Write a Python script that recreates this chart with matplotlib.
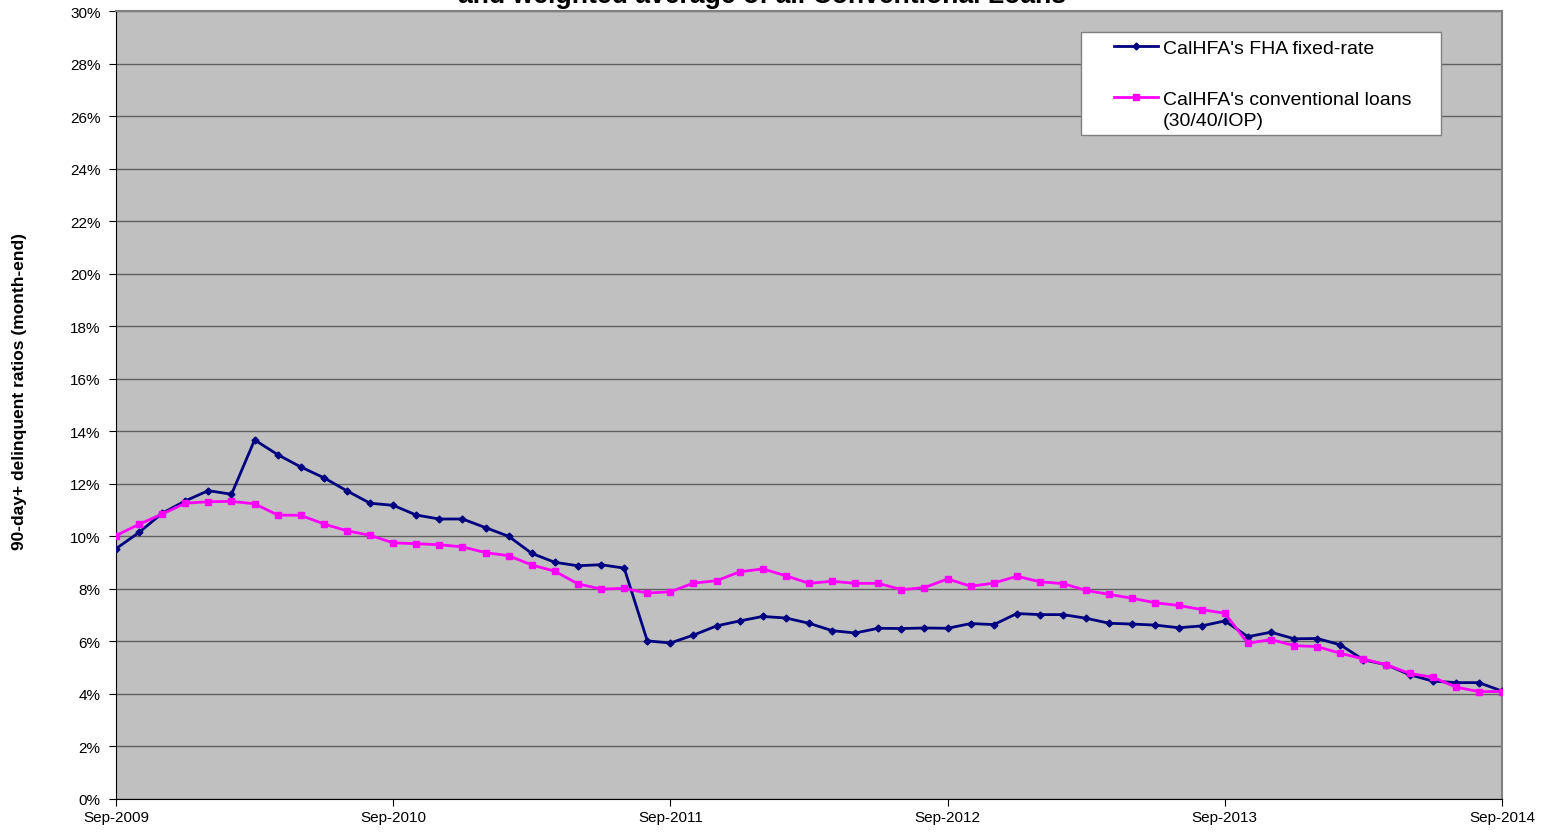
import matplotlib.pyplot as plt
from matplotlib.patches import Rectangle
from matplotlib.ticker import FuncFormatter

plt.rcParams['font.family'] = ['Liberation Sans', 'DejaVu Sans']

# month index 0 = Sep-2009 ... 60 = Sep-2014
fha = [9.53, 10.15, 10.88, 11.35, 11.74, 11.6, 13.67, 13.11, 12.64, 12.23,
       11.73, 11.26, 11.18, 10.81, 10.66, 10.66, 10.33, 10.0, 9.35, 9.01,
       8.88, 8.92, 8.79, 6.02, 5.94, 6.24, 6.59, 6.78, 6.95, 6.89,
       6.69, 6.41, 6.32, 6.5, 6.49, 6.51, 6.5, 6.68, 6.64, 7.06,
       7.02, 7.02, 6.88, 6.69, 6.66, 6.62, 6.52, 6.59, 6.78, 6.18,
       6.35, 6.1, 6.11, 5.87, 5.3, 5.11, 4.73, 4.49, 4.43, 4.43, 4.11]
conv = [10.03, 10.46, 10.85, 11.26, 11.32, 11.33, 11.24, 10.81, 10.8, 10.47,
        10.21, 10.04, 9.75, 9.72, 9.68, 9.6, 9.38, 9.26, 8.91, 8.67,
        8.19, 7.99, 8.02, 7.84, 7.89, 8.22, 8.31, 8.65, 8.76, 8.5,
        8.21, 8.29, 8.21, 8.21, 7.97, 8.05, 8.38, 8.1, 8.22, 8.48,
        8.27, 8.2, 7.94, 7.79, 7.64, 7.47, 7.37, 7.21, 7.07, 5.93,
        6.07, 5.84, 5.8, 5.55, 5.33, 5.11, 4.78, 4.64, 4.26, 4.09, 4.09]
months = list(range(len(fha)))
xtick_pos = [0, 12, 24, 36, 48, 60]
xtick_labels = ['Sep-2009', 'Sep-2010', 'Sep-2011', 'Sep-2012', 'Sep-2013', 'Sep-2014']

W, H = 1559, 837
fig = plt.figure(figsize=(W / 100, H / 100), dpi=100)
ax = fig.add_axes([116/W, 1-800/H, (1502-116)/W, (800-12)/H])
ax.set_facecolor('#C0C0C0')

ax.plot(months, fha, color='#000080', lw=2, marker='D', ms=3.5,
        label="CalHFA's FHA fixed-rate", zorder=3)
ax.plot(months, conv, color='#FF00FF', lw=2, marker='s', ms=5,
        label="CalHFA's conventional loans", zorder=3)

ax.set_xlim(0, 60)
ax.set_ylim(0, 30)
ax.set_yticks(range(0, 31, 2))
ax.yaxis.set_major_formatter(FuncFormatter(lambda v, p: '%d%%' % v))
ax.set_xticks(xtick_pos)
ax.set_xticklabels(xtick_labels)
ax.tick_params(labelsize=11, length=5, color='black')
ax.tick_params(axis='y', pad=6)
ax.tick_params(axis='x', pad=3)
ax.grid(axis='y', color='#606060', lw=1)
ax.set_axisbelow(True)
for s in ['top', 'right']:
    ax.spines[s].set_color('#808080')
    ax.spines[s].set_linewidth(1.5)
for s in ['left', 'bottom']:
    ax.spines[s].set_color('black')

ax.set_ylabel('90-day+ delinquent ratios (month-end)', fontsize=12.5, fontweight='bold')
ax.yaxis.set_label_coords((27-116)/1386, (800-392)/788)

# legend box drawn separately so the padding matches the original
fig.patches.append(Rectangle((1081/W, 1-136/H), 360/W, 103/H, transform=fig.transFigure,
                             facecolor='white', edgecolor='#808080', lw=1, zorder=4))
leg = fig.legend(loc='upper left', bbox_to_anchor=(1114/W, 1-40/H),
                 bbox_transform=fig.transFigure, fontsize=14, frameon=False,
                 handlelength=2.25, handletextpad=0.25, labelspacing=1.75,
                 borderpad=0, borderaxespad=0)
leg.set_zorder(5)
# second line of the conventional label, handle stays on the first line
fig.text(1163/W, 1-121/H, '(30/40/IOP)', fontsize=14, ha='left', va='center', zorder=6)

# title is cut off by the top edge in the original
fig.text(762/W, 1-3/H, 'and weighted average of all Conventional Loans',
         ha='center', va='baseline', fontsize=19.2, fontweight='bold')

fig.savefig('out.png', dpi=100)
